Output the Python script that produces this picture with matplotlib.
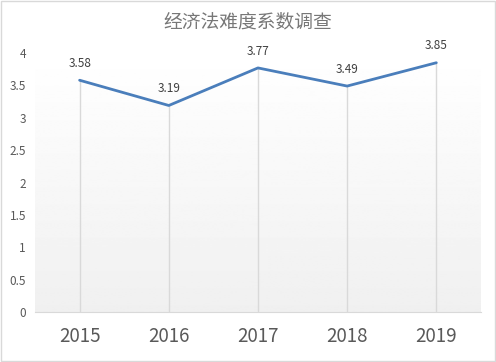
import numpy as np
import matplotlib
matplotlib.use('Agg')
import matplotlib.pyplot as plt

plt.rcParams['font.family'] = ['Noto Sans CJK SC', 'DejaVu Sans']

# data
years = ['2015', '2016', '2017', '2018', '2019']
scores = [3.58, 3.19, 3.77, 3.49, 3.85]
title = '经济法难度系数调查'

fig = plt.figure(figsize=(4.96, 3.62), dpi=100)
ax = fig.add_axes([0.0706, 0.138, 0.899, 0.7155])

x = np.arange(len(years))

# gradient background of plot area
grad = np.linspace(1.0, 0.94, 256).reshape(-1, 1)
ax.imshow(grad, cmap='gray', vmin=0, vmax=1, aspect='auto',
          extent=[0, 1, 0, 1], transform=ax.transAxes, zorder=0)

# drop lines
ax.vlines(x, 0, scores, colors='#d9d9d9', linewidth=1, zorder=1)
ax.plot(x, scores, color='#4A7EBB', linewidth=2.0, zorder=3,
        solid_capstyle='round', solid_joinstyle='round')

for xi, v in zip(x, scores):
    ax.annotate(f'{v:.2f}', (xi, v), xytext=(0, 7.5), textcoords='offset points',
                ha='center', va='bottom', fontsize=8.5, color='#404040')

ax.set_xlim(-0.5, len(years) - 0.5)
ax.set_ylim(0, 4)
ax.set_xticks(x)
ax.set_xticklabels(years, fontsize=13.5, color='#595959')
ax.set_yticks(np.arange(0, 4.01, 0.5))
ax.set_yticklabels(['0', '0.5', '1', '1.5', '2', '2.5', '3', '3.5', '4'],
                   fontsize=8.5, color='#595959')
ax.tick_params(axis='both', length=0)
ax.tick_params(axis='x', pad=10)
ax.tick_params(axis='y', pad=6.5)
for s in ['top', 'right', 'left']:
    ax.spines[s].set_visible(False)
ax.spines['bottom'].set_color('#d9d9d9')

fig.text(0.5, 0.94, title, ha='center', va='center', fontsize=13.5, color='#777777')

# outer border
fig.patches.append(plt.Rectangle((0.002, 0.003), 0.995, 0.994, transform=fig.transFigure,
                                 fill=False, edgecolor='#d9d9d9', linewidth=1))

fig.savefig('out.png', dpi=100)
